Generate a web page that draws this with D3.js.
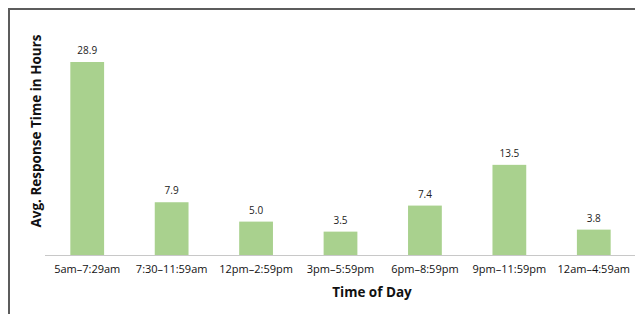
<!DOCTYPE html>
<html>
<head>
<meta charset="utf-8">
<script src="https://cdn.jsdelivr.net/npm/d3@7"></script>
<style>
  body { margin: 0; background: #fff; }
  text { font-family: "Open Sans", sans-serif; }
</style>
</head>
<body>
<div id="chart"></div>
<script>
// data
var categories = ["5am\u20137:29am", "7:30\u201311:59am", "12pm\u20132:59pm", "3pm\u20135:59pm",
                  "6pm\u20138:59pm", "9pm\u201311:59pm", "12am\u20134:59am"];
var hours = [28.9, 7.9, 5.0, 3.5, 7.4, 13.5, 3.8];

var width = 635, height = 314;

var svg = d3.select("#chart").append("svg")
  .attr("width", width)
  .attr("height", height);

// frame (cut off on the right and bottom)
svg.append("path")
  .attr("d", "M9,314 V9 H635")
  .attr("fill", "none")
  .attr("stroke", "#5c5c5c")
  .attr("stroke-width", 2);

var x = d3.scaleBand()
  .domain(categories)
  .range([45, 636])
  .paddingInner(0.6)
  .paddingOuter(0.3);

var y = d3.scaleLinear()
  .domain([0, 28.9])
  .range([255, 62]);

// bars
svg.selectAll("rect.bar")
  .data(hours)
  .enter().append("rect")
  .attr("class", "bar")
  .attr("x", function(d, i) { return x(categories[i]); })
  .attr("y", function(d) { return y(d); })
  .attr("width", x.bandwidth())
  .attr("height", function(d) { return y(0) - y(d); })
  .attr("fill", "#a9d18e");

// value labels
svg.selectAll("text.val")
  .data(hours)
  .enter().append("text")
  .attr("class", "val")
  .attr("x", function(d, i) { return x(categories[i]) + x.bandwidth() / 2; })
  .attr("y", function(d) { return y(d) - 8; })
  .attr("text-anchor", "middle")
  .attr("font-size", "10px")
  .attr("fill", "#222")
  .text(function(d) { return d.toFixed(1); });

// x axis
var xAxis = svg.append("g")
  .attr("transform", "translate(0,255)")
  .call(d3.axisBottom(x).tickSize(0).tickPadding(10));
xAxis.select(".domain").attr("stroke", "#c8c8c8").attr("d", "M45,0.5H635");
xAxis.selectAll("text")
  .attr("font-size", "11px")
  .attr("font-family", "Open Sans, sans-serif")
  .attr("fill", "#111");

// axis titles
svg.append("text")
  .attr("x", 372)
  .attr("y", 297)
  .attr("text-anchor", "middle")
  .attr("font-size", "13.5px")
  .attr("font-weight", "bold")
  .attr("fill", "#111")
  .text("Time of Day");

svg.append("text")
  .attr("transform", "translate(41,131) rotate(-90)")
  .attr("text-anchor", "middle")
  .attr("font-size", "13.5px")
  .attr("font-weight", "bold")
  .attr("fill", "#111")
  .text("Avg. Response Time in Hours");
</script>
</body>
</html>
